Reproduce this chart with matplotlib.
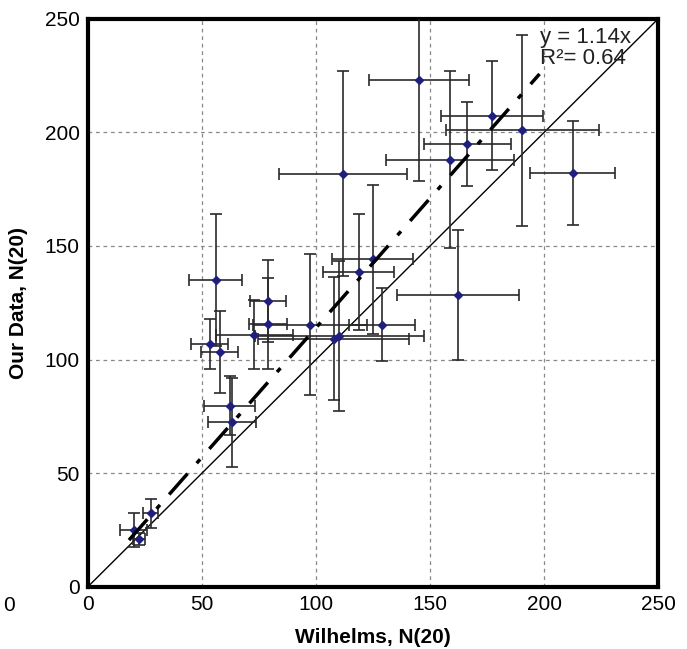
import matplotlib
matplotlib.use("Agg")
import matplotlib.pyplot as plt
import numpy as np

plt.rcParams['font.family'] = ['Liberation Sans Narrow', 'Liberation Sans', 'DejaVu Sans']

# Wilhelms values (x) and our data (y), with error bars
wilhelms = [20.1, 22.3, 27.6, 53.4, 56.0, 57.7, 62.1, 63.1, 73.0, 78.9, 78.9, 97.4, 107.7,
            110.2, 111.7, 118.7, 124.8, 128.9, 145.2, 158.8, 162.3, 166.4, 177.0, 190.4, 212.5]
our_data = [25.0, 20.9, 32.3, 107.0, 135.0, 103.2, 79.7, 72.3, 111.0, 125.7, 115.7, 115.4, 109.2,
            110.2, 181.9, 138.5, 144.1, 115.4, 223.2, 187.9, 128.3, 194.8, 207.3, 201.0, 182.1]
x_err = [6.0, 2.6, 3.3, 8.0, 11.5, 8.0, 11.0, 10.6, 17.0, 8.0, 8.5, 25.0, 33.0,
         37.0, 28.0, 15.7, 17.8, 14.3, 22.0, 28.0, 26.7, 19.2, 22.4, 33.6, 18.6]
y_err = [7.5, 2.6, 6.5, 11.0, 29.0, 18.0, 13.0, 19.5, 15.0, 18.0, 20.0, 31.0, 27.0,
         33.0, 45.0, 25.4, 32.8, 16.0, 44.6, 39.0, 28.7, 18.5, 24.0, 42.0, 23.0]

slope = 1.14
fit_range = [18, 198]
ticks = [0, 50, 100, 150, 200, 250]

fig = plt.figure(figsize=(6.87, 6.49), dpi=100)
ax = fig.add_axes([0.128, 0.096, 0.83, 0.875])

ax.errorbar(wilhelms, our_data, xerr=x_err, yerr=y_err, fmt='D', color='#1f1f80',
            markersize=4.5, ecolor='#2a2a2a', elinewidth=1.2, capsize=4, capthick=1.2, zorder=3)

# 1:1 line and fitted line
ax.plot([0, 250], [0, 250], color='black', linewidth=1.0, zorder=2)
fx = np.array(fit_range)
ax.plot(fx, slope * fx, color='black', linewidth=2.5, linestyle=(0, (8, 4, 1.5, 4)), zorder=4)

ax.text(198, 246.5, "y = 1.14x\nR\u00b2= 0.64", fontsize=16, va='top', ha='left',
        linespacing=1.0, color='#222222')

ax.set_xlim(0, 250)
ax.set_ylim(0, 250)
ax.set_xticks(ticks)
ax.set_yticks(ticks)
ax.grid(True, linestyle=(0, (3, 3)), color='#888888', linewidth=0.9)
ax.set_axisbelow(True)
ax.tick_params(length=0, labelsize=15, pad=6)
for s in ax.spines.values():
    s.set_linewidth(3)

ax.set_xlabel("Wilhelms, N(20)", fontsize=15, fontweight='bold', labelpad=10)
ax.set_ylabel("Our Data, N(20)", fontsize=15, fontweight='bold', labelpad=12)

fig.text(0.005, 0.058, "0", fontsize=15)

fig.savefig("out.png", dpi=100)
